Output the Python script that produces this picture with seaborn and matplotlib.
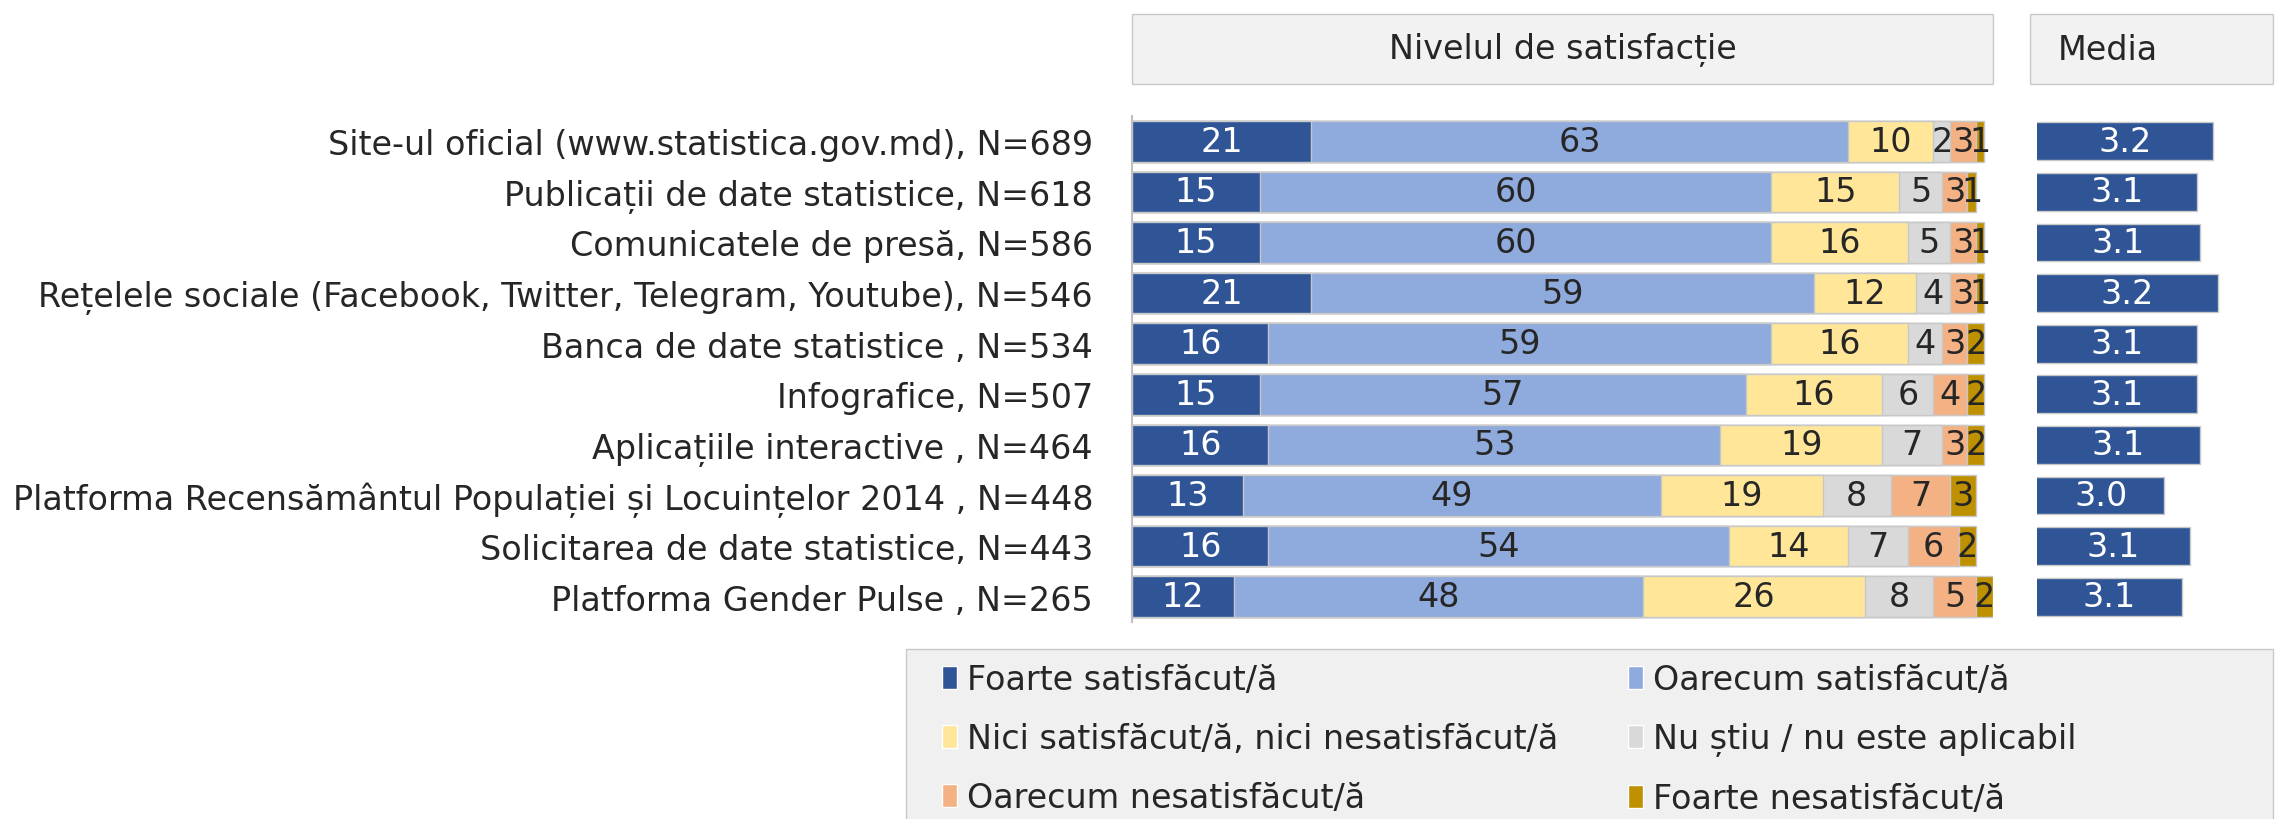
import pandas as pd
import matplotlib
matplotlib.use('Agg')
import matplotlib.pyplot as plt
import seaborn as sns
from matplotlib.patches import Rectangle, Patch

# Data
categories = [
    'Site-ul oficial (www.statistica.gov.md), N=689',
    'Publicații de date statistice, N=618',
    'Comunicatele de presă, N=586',
    'Rețelele sociale (Facebook, Twitter, Telegram, Youtube), N=546',
    'Banca de date statistice , N=534',
    'Infografice, N=507',
    'Aplicațiile interactive , N=464',
    'Platforma Recensământul Populației și Locuințelor 2014 , N=448',
    'Solicitarea de date statistice, N=443',
    'Platforma Gender Pulse , N=265',
]
foarte_sat = [21, 15, 15, 21, 16, 15, 16, 13, 16, 12]
oarecum_sat = [63, 60, 60, 59, 59, 57, 53, 49, 54, 48]
nici = [10, 15, 16, 12, 16, 16, 19, 19, 14, 26]
nu_stiu = [2, 5, 5, 4, 4, 6, 7, 8, 7, 8]
oarecum_nesat = [3, 3, 3, 3, 3, 4, 3, 7, 6, 5]
foarte_nesat = [1, 1, 1, 1, 2, 2, 2, 3, 2, 2]
media = [3.19, 3.13, 3.14, 3.21, 3.13, 3.13, 3.14, 3.00, 3.10, 3.07]

series_names = ['Foarte satisfăcut/ă', 'Oarecum satisfăcut/ă',
                'Nici satisfăcut/ă, nici nesatisfăcut/ă', 'Nu știu / nu este aplicabil',
                'Oarecum nesatisfăcut/ă', 'Foarte nesatisfăcut/ă']
colors = ['#2F5597', '#8FAADC', '#FFE699', '#D9D9D9', '#F4B183', '#BF9000']

sns.set_style('white')
plt.rcParams['font.family'] = ['DejaVu Sans']
txt_color = '#262626'
fs = 24

series = [foarte_sat, oarecum_sat, nici, nu_stiu, oarecum_nesat, foarte_nesat]
df = pd.DataFrame({'categorie': categories})
running = [0] * len(categories)
for k, vals in enumerate(series):
    running = [a + b for a, b in zip(running, vals)]
    df[f'cum{k}'] = running

W, H = 2292, 820
fig = plt.figure(figsize=(W / 100, H / 100), dpi=100)

# main stacked bar panel
ax = fig.add_axes([1132 / W, 1 - 623 / H, (1993 - 1132) / W, 506 / H])
for k in reversed(range(len(series))):
    sns.barplot(data=df, x=f'cum{k}', y='categorie', color=colors[k], saturation=1,
                width=0.8, edgecolor='#c8c8c8', linewidth=1, orient='h', ax=ax)

for i in range(len(categories)):
    left = 0
    for k, vals in enumerate(series):
        v = vals[i]
        ax.text(left + v / 2, i, str(v), ha='center', va='center', fontsize=fs,
                color='white' if k == 0 else txt_color)
        left += v

ax.set_xlim(0, 101)
ax.set_xlabel('')
ax.set_ylabel('')
ax.set_xticks([])
ax.tick_params(axis='y', length=0, pad=28, labelsize=fs, labelcolor=txt_color)
for s in ['top', 'right', 'bottom']:
    ax.spines[s].set_visible(False)
ax.spines['left'].set_color('#bfbfbf')
ax.spines['left'].set_linewidth(1.5)

# media panel
ax2 = fig.add_axes([2037 / W, 1 - 623 / H, 229 / W, 506 / H])
sns.barplot(x=media, y=categories, color=colors[0], saturation=1, width=0.75,
            edgecolor='#c8c8c8', linewidth=1, orient='h', ax=ax2)
for i, m in enumerate(media):
    ax2.text((2.5 + m) / 2, i, f'{m:.1f}', ha='center', va='center', fontsize=fs, color='white')
ax2.set_xlim(2.5, 3.4)
ax2.set_xticks([])
ax2.set_yticks([])
ax2.set_xlabel('')
ax2.set_ylabel('')
for s in ax2.spines.values():
    s.set_visible(False)

# header boxes
fig.add_artist(Rectangle((1132 / W, 1 - 85 / H), (1993 - 1132) / W, 70 / H,
                         transform=fig.transFigure, facecolor='#f2f2f2', edgecolor='#c8c8c8', lw=1))
fig.text((1132 + 1993) / 2 / W, 1 - 50 / H, 'Nivelul de satisfacție', ha='center', va='center',
         fontsize=fs, color=txt_color)
fig.add_artist(Rectangle((2030 / W, 1 - 85 / H), (2273 - 2030) / W, 70 / H,
                         transform=fig.transFigure, facecolor='#f2f2f2', edgecolor='#c8c8c8', lw=1))
fig.text(2058 / W, 1 - 50 / H, 'Media', ha='left', va='center', fontsize=fs, color=txt_color)

# legend box
fig.add_artist(Rectangle((906 / W, -0.01), (2273 - 906) / W, 170 / H + 0.01,
                         transform=fig.transFigure, facecolor='#f0f0f0', edgecolor='#c8c8c8', lw=1))
handles = [Patch(facecolor=c) for c in colors]
order = [0, 2, 4, 1, 3, 5]
fig.legend([handles[i] for i in order], [series_names[i] for i in order], ncol=2,
           loc='upper left', bbox_to_anchor=(942 / W, 1 - 664 / H), frameon=False,
           fontsize=fs, handlelength=0.45, handleheight=0.7, handletextpad=0.3,
           columnspacing=2.1, labelspacing=0.78, borderpad=0, borderaxespad=0,
           labelcolor=txt_color)

fig.savefig('out.png', dpi=100)
